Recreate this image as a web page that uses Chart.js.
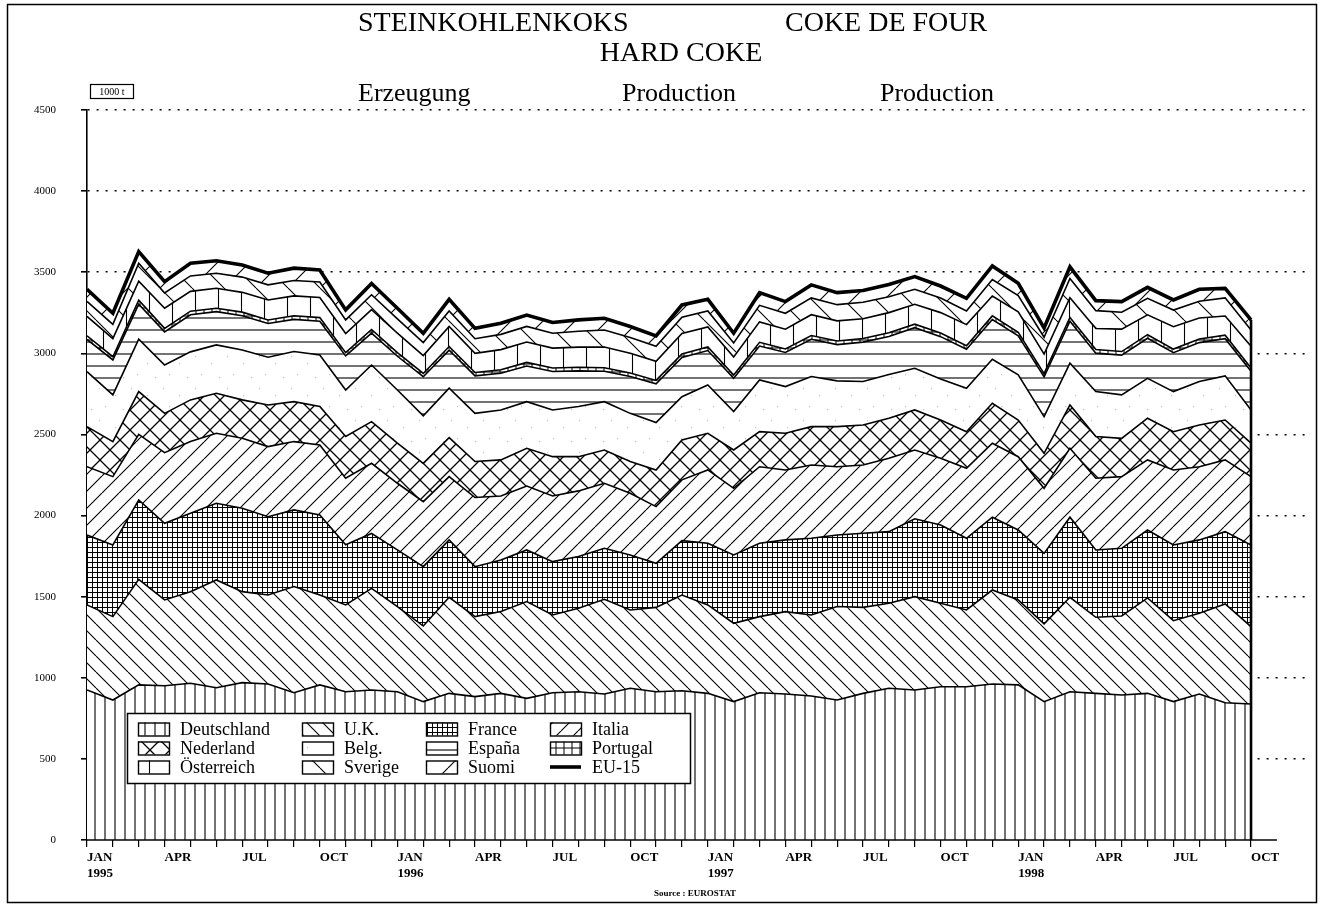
<!DOCTYPE html>
<html>
<head>
<meta charset="utf-8">
<script src="https://cdn.jsdelivr.net/npm/chart.js@4.4.1/dist/chart.umd.min.js"></script>
<style>
  html, body { margin: 0; padding: 0; background: #fff; }
  #wrap { width: 1321px; height: 906px; }
</style>
</head>
<body>
<div id="wrap"><canvas id="koks" width="1321" height="906"></canvas></div>
<script>
// monthly production, 1000 t
const categories = [
  'JAN 1995', 'FEB 1995', 'MAR 1995', 'APR 1995', 'MAY 1995', 'JUN 1995', 'JUL 1995', 'AUG 1995', 'SEP 1995', 'OCT 1995', 'NOV 1995', 'DEC 1995',
  'JAN 1996', 'FEB 1996', 'MAR 1996', 'APR 1996', 'MAY 1996', 'JUN 1996', 'JUL 1996', 'AUG 1996', 'SEP 1996', 'OCT 1996', 'NOV 1996', 'DEC 1996',
  'JAN 1997', 'FEB 1997', 'MAR 1997', 'APR 1997', 'MAY 1997', 'JUN 1997', 'JUL 1997', 'AUG 1997', 'SEP 1997', 'OCT 1997', 'NOV 1997', 'DEC 1997',
  'JAN 1998', 'FEB 1998', 'MAR 1998', 'APR 1998', 'MAY 1998', 'JUN 1998', 'JUL 1998', 'AUG 1998', 'SEP 1998', 'OCT 1998'
];
const shownMonths = ['JAN', 'APR', 'JUL', 'OCT'];
const yTicks = [0, 500, 1000, 1500, 2000, 2500, 3000, 3500, 4000, 4500];

const deutschland = [925, 863, 956, 951, 966, 939, 970, 962, 908, 956, 914, 925, 914, 853, 904, 884, 904, 873, 908, 914, 900, 935, 914, 920, 904, 853, 908, 900, 888, 863, 904, 935, 925, 945, 945, 962, 956, 853, 914, 904, 894, 904, 853, 900, 846, 838];
const uk = [524, 514, 651, 529, 565, 664, 561, 548, 654, 554, 535, 626, 525, 466, 592, 493, 504, 597, 479, 514, 584, 483, 520, 590, 545, 483, 469, 508, 499, 576, 530, 524, 575, 514, 473, 579, 524, 479, 582, 469, 487, 588, 499, 498, 609, 477];
const france = [431, 442, 489, 472, 483, 473, 514, 483, 473, 494, 371, 339, 349, 366, 354, 308, 318, 318, 329, 319, 314, 339, 272, 335, 380, 421, 452, 442, 473, 441, 457, 442, 480, 483, 442, 449, 431, 435, 494, 415, 417, 419, 467, 452, 446, 504];
const italia = [421, 421, 404, 436, 442, 431, 431, 432, 421, 431, 410, 432, 411, 401, 390, 426, 395, 394, 405, 405, 401, 381, 349, 375, 452, 411, 472, 431, 452, 421, 421, 452, 424, 411, 431, 456, 452, 401, 425, 442, 442, 432, 462, 451, 442, 421];
const nederland = [247, 216, 264, 242, 257, 247, 237, 257, 246, 237, 257, 257, 247, 236, 240, 222, 222, 233, 242, 211, 205, 195, 226, 246, 226, 236, 216, 226, 236, 247, 246, 247, 247, 236, 226, 246, 226, 216, 267, 257, 236, 257, 236, 257, 246, 206];
const belg = [339, 288, 323, 298, 296, 298, 308, 294, 309, 318, 287, 349, 328, 293, 305, 297, 308, 287, 288, 309, 298, 297, 292, 267, 298, 237, 319, 288, 309, 282, 268, 269, 257, 253, 267, 271, 278, 226, 257, 277, 268, 246, 247, 268, 272, 205];
const espana = [199, 215, 216, 204, 229, 205, 211, 208, 198, 208, 210, 197, 208, 241, 235, 231, 226, 220, 237, 220, 188, 227, 239, 241, 212, 205, 209, 210, 230, 224, 243, 235, 250, 261, 241, 245, 241, 245, 259, 237, 245, 247, 240, 240, 229, 238];
const portugal = [22, 20, 24, 22, 22, 21, 22, 22, 23, 22, 20, 22, 22, 20, 22, 21, 22, 22, 22, 22, 21, 22, 21, 22, 22, 20, 23, 22, 23, 22, 22, 23, 22, 22, 22, 23, 22, 20, 23, 22, 22, 22, 22, 22, 22, 20];
const osterreich = [120, 112, 118, 124, 122, 123, 122, 123, 122, 124, 118, 122, 120, 110, 124, 118, 124, 126, 122, 124, 128, 122, 118, 126, 124, 112, 126, 122, 128, 124, 122, 124, 122, 126, 130, 122, 126, 120, 122, 130, 138, 122, 138, 130, 118, 135];
const sverige = [92, 88, 110, 94, 95, 93, 94, 93, 95, 96, 84, 92, 88, 80, 95, 90, 94, 96, 92, 98, 105, 96, 92, 100, 98, 86, 102, 98, 104, 100, 102, 98, 93, 90, 84, 102, 100, 104, 118, 110, 104, 102, 103, 103, 112, 100];
const suomi = [75, 68, 72, 70, 78, 77, 75, 72, 76, 74, 62, 70, 66, 58, 72, 64, 68, 70, 66, 70, 72, 68, 64, 76, 72, 60, 78, 72, 80, 74, 72, 76, 78, 74, 78, 84, 76, 58, 72, 62, 66, 68, 62, 74, 58, 62];
const eu15 = [3395, 3247, 3627, 3442, 3555, 3571, 3545, 3494, 3525, 3514, 3268, 3431, 3278, 3124, 3333, 3154, 3185, 3236, 3190, 3206, 3216, 3165, 3107, 3298, 3333, 3124, 3374, 3319, 3422, 3374, 3387, 3425, 3473, 3415, 3339, 3539, 3432, 3157, 3533, 3325, 3319, 3407, 3329, 3395, 3400, 3206];

const canvas = document.getElementById('koks');
const ctx = canvas.getContext('2d');

// hatch fills, white underneath so the dotted grid is hidden
function hatch(size, draw, lw) {
    const c = document.createElement('canvas');
    c.width = size;
    c.height = size;
    const g = c.getContext('2d');
    g.fillStyle = '#fff';
    g.fillRect(0, 0, size, size);
    g.strokeStyle = '#000';
    g.lineWidth = lw || 1.1;
    draw(g, size);
    return ctx.createPattern(c, 'repeat');
}
function vertical(g, s) { g.beginPath(); g.moveTo(s / 2, 0); g.lineTo(s / 2, s); g.stroke(); }
function horizontal(g, s) { g.beginPath(); g.moveTo(0, s / 2); g.lineTo(s, s / 2); g.stroke(); }
function grid(g, s) { vertical(g, s); horizontal(g, s); }
function back(g, s) {
    g.beginPath();
    for (let x0 = -s; x0 <= s; x0 += s) { g.moveTo(x0, 0); g.lineTo(x0 + s, s); }
    g.stroke();
}
function fwd(g, s) {
    g.beginPath();
    for (let x0 = -s; x0 <= s; x0 += s) { g.moveTo(x0, s); g.lineTo(x0 + s, 0); }
    g.stroke();
}
function cross(g, s) { back(g, s); fwd(g, s); }
function stipple(g, s) {
    g.fillStyle = '#c4c4c4';
    [[3, 4], [19, 11], [9, 22], [27, 25]].forEach(p => g.fillRect(p[0], p[1], 1.2, 1.2));
}

const fills = {
    deutschland: hatch(10, vertical),
    uk: hatch(16, back),
    france: hatch(5, grid, 1),
    italia: hatch(17, fwd),
    nederland: hatch(20, cross, 1.3),
    belg: hatch(32, stipple),
    espana: hatch(12, horizontal),
    portugal: hatch(8, grid, 1),
    osterreich: hatch(23, vertical),
    sverige: hatch(32, back),
    suomi: hatch(32, fwd)
};

function layer(label, values, pattern, idx) {
    return {
        label: label,
        data: values.map((v, i) => ({ x: i, y: v })),
        backgroundColor: pattern,
        borderColor: '#000',
        borderWidth: 1.6,
        fill: idx === 0 ? 'origin' : '-1',
        stack: 'countries',
        pointRadius: 0,
        tension: 0
    };
}

const datasets = [
    layer('Deutschland', deutschland, fills.deutschland, 0),
    layer('U.K.', uk, fills.uk, 1),
    layer('France', france, fills.france, 2),
    layer('Italia', italia, fills.italia, 3),
    layer('Nederland', nederland, fills.nederland, 4),
    layer('Belg.', belg, fills.belg, 5),
    layer('España', espana, fills.espana, 6),
    layer('Portugal', portugal, fills.portugal, 7),
    layer('Österreich', osterreich, fills.osterreich, 8),
    layer('Sverige', sverige, fills.sverige, 9),
    layer('Suomi', suomi, fills.suomi, 10),
    {
        label: 'EU-15',
        data: eu15.map((v, i) => ({ x: i, y: v })),
        borderColor: '#000',
        borderWidth: 3.6,
        fill: false,
        stack: 'total',
        order: -1,
        pointRadius: 0,
        tension: 0
    }
];

const serif = "'Liberation Serif', 'DejaVu Serif', serif";

const decor = {
    id: 'decor',
    afterDatasetsDraw(chart) {
        const { x, y } = chart.scales;
        const last = eu15.length - 1;
        ctx.save();
        ctx.strokeStyle = '#000';
        // closing edge of the stacked areas
        ctx.lineWidth = 2.6;
        ctx.beginPath();
        ctx.moveTo(x.getPixelForValue(last), y.getPixelForValue(0));
        ctx.lineTo(x.getPixelForValue(last), y.getPixelForValue(eu15[last]));
        ctx.stroke();
        // time axis line, a bit past the last month
        ctx.lineWidth = 1.6;
        ctx.beginPath();
        ctx.moveTo(x.getPixelForValue(0), y.getPixelForValue(0));
        ctx.lineTo(x.getPixelForValue(categories.length), y.getPixelForValue(0));
        ctx.stroke();
        ctx.restore();
    },
    afterDraw(chart) {
        ctx.save();
        ctx.fillStyle = '#000';
        ctx.strokeStyle = '#000';

        // headings
        ctx.textBaseline = 'alphabetic';
        ctx.font = '28px ' + serif;
        ctx.textAlign = 'left';
        ctx.fillText('STEINKOHLENKOKS', 358, 31);
        ctx.fillText('COKE DE FOUR', 785, 31);
        ctx.textAlign = 'center';
        ctx.fillText('HARD COKE', 681, 61);
        ctx.font = '26px ' + serif;
        ctx.textAlign = 'left';
        ctx.fillText('Erzeugung', 358, 101);
        ctx.fillText('Production', 622, 101);
        ctx.fillText('Production', 880, 101);

        // unit box
        ctx.lineWidth = 1.2;
        ctx.strokeRect(90.5, 84.5, 43, 14);
        ctx.font = '10px ' + serif;
        ctx.textAlign = 'center';
        ctx.textBaseline = 'middle';
        ctx.fillText('1000 t', 112, 92);

        // source
        ctx.font = 'bold 9px ' + serif;
        ctx.fillText('Source : EUROSTAT', 695, 894);

        // legend
        const lx = 127, ly = 713, lw = 563, lh = 70;
        ctx.fillStyle = '#fff';
        ctx.fillRect(lx, ly, lw, lh);
        ctx.lineWidth = 1.5;
        ctx.strokeRect(lx + 0.5, ly + 0.5, lw, lh);
        const cols = [138, 302, 426, 550];
        const rows = [729, 748, 767];
        ctx.font = '18px ' + serif;
        ctx.textAlign = 'left';
        ctx.textBaseline = 'middle';
        chart.data.datasets.forEach((ds, i) => {
            const cx = cols[i % 4], cy = rows[Math.floor(i / 4)];
            if (ds.fill === false) {
                ctx.lineWidth = 3.6;
                ctx.beginPath();
                ctx.moveTo(cx, cy);
                ctx.lineTo(cx + 31, cy);
                ctx.stroke();
            } else {
                ctx.fillStyle = ds.backgroundColor;
                ctx.fillRect(cx, cy - 6.5, 31, 13);
                ctx.lineWidth = 1.4;
                ctx.strokeRect(cx + 0.5, cy - 6, 31, 13);
            }
            ctx.fillStyle = '#000';
            ctx.fillText(ds.label, cx + 42, cy + 1);
        });

        // page frame
        ctx.lineWidth = 1.5;
        ctx.strokeRect(7.5, 4.5, 1309, 898);
        ctx.restore();
    }
};

new Chart(ctx, {
    type: 'line',
    data: { datasets: datasets },
    options: {
        responsive: false,
        animation: false,
        events: [],
        layout: { padding: { top: 110, right: 11, left: 0, bottom: 0 } },
        plugins: { legend: { display: false }, tooltip: { enabled: false } },
        scales: {
            x: {
                type: 'linear',
                min: 0,
                max: 47.28,
                afterBuildTicks: function (scale) {
                    scale.ticks = categories.map((c, i) => ({ value: i }));
                },
                afterFit: function (scale) { scale.height = 66; },
                grid: { drawOnChartArea: false, drawTicks: true, tickLength: 7, color: '#000', lineWidth: 1.2 },
                border: { display: false },
                ticks: {
                    autoSkip: false,
                    maxRotation: 0,
                    align: 'start',
                    padding: 3,
                    color: '#000',
                    font: { family: serif, size: 13, weight: 'bold' },
                    callback: function (value) {
                        const parts = (categories[value] || '').split(' ');
                        if (parts[0] === 'JAN') return [parts[0], parts[1]];
                        return shownMonths.indexOf(parts[0]) >= 0 ? parts[0] : '';
                    }
                }
            },
            y: {
                stacked: true,
                min: 0,
                max: 4500,
                afterBuildTicks: function (scale) {
                    scale.ticks = yTicks.map(v => ({ value: v }));
                },
                afterFit: function (scale) { scale.width = 87; },
                grid: {
                    // no dotted line along the time axis
                    color: c => (c.tick && c.tick.value === 0 ? 'rgba(0,0,0,0)' : '#000'),
                    tickColor: '#000',
                    lineWidth: 1.6,
                    tickLength: 6,
                    drawTicks: true
                },
                border: { display: true, color: '#000', width: 1.6, dash: [2, 7] },
                ticks: {
                    padding: 25,
                    color: '#000',
                    font: { family: serif, size: 11 },
                    callback: function (value) { return String(value); }
                }
            }
        }
    },
    plugins: [decor]
});
</script>
</body>
</html>
